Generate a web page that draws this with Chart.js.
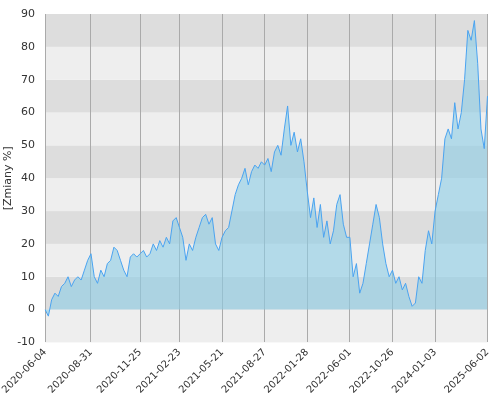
<!DOCTYPE html>
<html><head><meta charset="utf-8">
<script src="https://cdn.jsdelivr.net/npm/chart.js@4/dist/chart.umd.min.js"></script>
<style>body{margin:0;background:#fff}#w{width:500px;height:400px}</style>
</head><body><div id="w"><canvas id="myChart"></canvas></div>
<script>
const tickDates = ['2020-06-04','2020-08-31','2020-11-25','2021-02-23','2021-05-21','2021-08-27','2022-01-28','2022-06-01','2022-10-26','2024-01-03','2025-06-02'];
const seg0 = [0, -2, 3, 5, 4, 7, 8, 10, 7, 9, 10, 9, 12, 15];
const seg1 = [17, 10, 8, 12, 10, 14, 15, 19, 18, 15, 12, 10, 16, 17, 16];
const seg2 = [17, 18, 16, 17, 20, 18, 21, 19, 22, 20, 27, 28];
const seg3 = [25, 22, 15, 20, 18, 22, 25, 28, 29, 26, 28, 20, 18];
const seg4 = [22, 24, 25, 30, 35, 38, 40, 43, 38, 42, 44, 43, 45];
const seg5 = [44, 46, 42, 48, 50, 47, 55, 62, 50, 54, 48, 52, 45];
const seg6 = [36, 28, 34, 25, 32, 22, 27, 20, 24, 32, 35, 26, 22];
const seg7 = [22, 10, 14, 5, 8, 14, 20, 26, 32, 28, 20, 14, 10];
const seg8 = [12, 8, 10, 6, 8, 4, 1, 2, 10, 8, 18, 24, 20];
const seg9 = [30, 35, 40, 52, 55, 52, 63, 55, 60, 70, 85, 82, 88, 75, 55, 49, 65];

const segs = [seg0, seg1, seg2, seg3, seg4, seg5, seg6, seg7, seg8, seg9];
const values = [];
const labels = [];
segs.forEach((s, i) => {
  s.forEach((v, j) => {
    values.push(v);
    labels.push(j === 0 ? tickDates[i] : '');
  });
});
labels[labels.length - 1] = tickDates[10];

const bands = {
  id: 'bands',
  beforeDraw(chart) {
    const {ctx, chartArea: a, scales: {y}} = chart;
    ctx.save();
    for (let v = -10; v < 90; v += 10) {
      const top = y.getPixelForValue(v + 10), bot = y.getPixelForValue(v);
      ctx.fillStyle = (Math.round(v / 10) % 2 === 0) ? '#dddddd' : '#eeeeee';
      if (v === -10) ctx.fillStyle = '#eeeeee';
      ctx.fillRect(a.left, top, a.right - a.left, bot - top);
    }
    ctx.restore();
  }
};

new Chart(document.getElementById('myChart'), {
  type: 'line',
  data: {
    labels,
    datasets: [{
      data: values,
      fill: 'origin',
      backgroundColor: 'rgba(140,205,230,0.6)',
      borderColor: '#4aa3f0',
      borderWidth: 1,
      pointRadius: 0,
      tension: 0
    }]
  },
  options: {
    responsive: true,
    maintainAspectRatio: false,
    animation: false,
    layout: {padding: {right: 0, top: 14, left: 0}},
    plugins: {legend: {display: false}, tooltip: {enabled: false}},
    scales: {
      x: {
        offset: false,
        grid: {
          color: c => (c.tick && c.tick.label) ? '#aaaaaa' : 'rgba(0,0,0,0)',
          drawTicks: false
        },
        border: {display: false},
        ticks: {
          autoSkip: false, maxRotation: 45, minRotation: 45,
          color: '#333', font: {family: 'DejaVu Sans', size: 10}, padding: 4
        }
      },
      y: {
        min: -10, max: 90,
        grid: {display: false},
        border: {display: false},
        ticks: {stepSize: 10, padding: 2, color: '#333', font: {family: 'DejaVu Sans', size: 11}},
        title: {display: true, text: '[Zmiany %]', padding: 0, color: '#333', font: {family: 'DejaVu Sans', size: 11}}
      }
    }
  },
  plugins: [bands]
});
</script></body></html>
